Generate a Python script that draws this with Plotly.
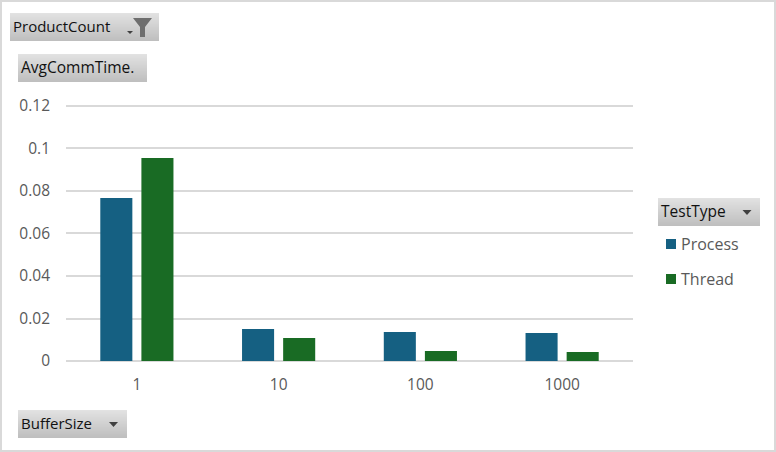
import plotly.graph_objects as go

# chart values
buffer_sizes = ['1', '10', '100', '1000']
series_names = ['Process', 'Thread']
process_times = [0.0767, 0.0150, 0.0137, 0.0132]
thread_times = [0.0955, 0.0108, 0.0047, 0.0042]
series_colors = ['#156082', '#196B24']

WIDTH, HEIGHT = 776, 452
LEFT, RIGHT, TOP, BOTTOM = 66, 143, 103, 91
FONT = 'Open Sans'

fig = go.Figure()
fig.add_trace(go.Bar(x=buffer_sizes, y=process_times, name=series_names[0],
                     marker=dict(color=series_colors[0], line_width=0)))
fig.add_trace(go.Bar(x=buffer_sizes, y=thread_times, name=series_names[1],
                     marker=dict(color=series_colors[1], line_width=0)))


# pixel position -> paper coordinates, for the field buttons around the plot
def px(x):
    return (x - LEFT) / (WIDTH - LEFT - RIGHT)


def py(y):
    return 1 - (y - TOP) / (HEIGHT - TOP - BOTTOM)


def rect(x0, y0, x1, y1, color):
    fig.add_shape(type='rect', xref='paper', yref='paper', layer='below',
                  x0=px(x0), y0=py(y0), x1=px(x1), y1=py(y1),
                  fillcolor=color, line_width=0)


def path(points, color):
    d = 'M' + ' L'.join(f'{px(x)},{py(y)}' for x, y in points) + ' Z'
    fig.add_shape(type='path', xref='paper', yref='paper', path=d,
                  fillcolor=color, line_width=0)


def label(x, y, text, size, color):
    fig.add_annotation(xref='paper', yref='paper', x=px(x), y=py(y), text=text,
                       showarrow=False, xanchor='left', yanchor='middle', borderpad=0,
                       font=dict(family=FONT, size=size, color=color))


# grey gradient button with its field name
def button(x0, y0, x1, y1, text, size):
    for i in range(y1 - y0):
        g = int(226 - 35 * i / (y1 - y0 - 1))
        rect(x0, y0 + i, x1, y0 + i + 1, f'rgb({g},{g},{g})')
    label(x0 + 2, (y0 + y1) / 2 - 1, text, size, '#111111')


def arrow(cx, cy, w, h):
    path([(cx - w / 2, cy), (cx + w / 2, cy), (cx, cy + h)], '#404040')


button(10, 13, 159, 41, 'ProductCount', 15)
arrow(130, 31, 6, 3)
path([(133, 18), (152, 18), (145, 27), (145, 37), (140, 37), (140, 27)], '#6e6e6e')
button(18, 54, 147, 82, 'AvgCommTime.', 15.5)
button(658, 198, 760, 226, 'TestType', 15.5)
arrow(747, 210, 9, 5)
button(18, 410, 127, 438, 'BufferSize', 15)
arrow(113.5, 422, 9, 5)

# legend entries sit closer together than the built-in legend allows
for name, color, y in zip(series_names, series_colors, [244, 279]):
    rect(666, y - 5, 676, y + 5, color)
    label(680, y, name, 16, '#595959')

# outer frame of the picture
fig.add_shape(type='rect', xref='paper', yref='paper', layer='below',
              x0=px(1), y0=py(1), x1=px(WIDTH - 1), y1=py(HEIGHT - 1),
              line=dict(color='#d9d9d9', width=2), fillcolor='rgba(0,0,0,0)')

fig.update_layout(
    width=WIDTH, height=HEIGHT, autosize=False,
    margin=dict(l=LEFT, r=RIGHT, t=TOP, b=BOTTOM),
    paper_bgcolor='white', plot_bgcolor='white',
    barmode='group', bargap=0.42, bargroupgap=0.22,
    font=dict(family=FONT, size=15, color='#595959'),
    showlegend=False,
)
fig.update_xaxes(type='category', showgrid=False, ticks='', showline=False,
                 zeroline=False, ticklabelstandoff=12,
                 tickfont=dict(size=15.5, color='#595959'))
# range runs past 0.12 so plotly does not clip the top gridline at the edge
fig.update_yaxes(range=[0, 0.1214], dtick=0.02, tick0=0, showgrid=True,
                 gridcolor='#d9d9d9', gridwidth=2, zeroline=True,
                 zerolinecolor='#d9d9d9', zerolinewidth=2, ticks='',
                 showline=False, ticklabelstandoff=15,
                 tickfont=dict(size=15.5, color='#595959'))

fig.write_html("out.html", config=dict(displayModeBar=False),
               post_script='document.body.style.margin="0";document.body.style.overflow="hidden";')
